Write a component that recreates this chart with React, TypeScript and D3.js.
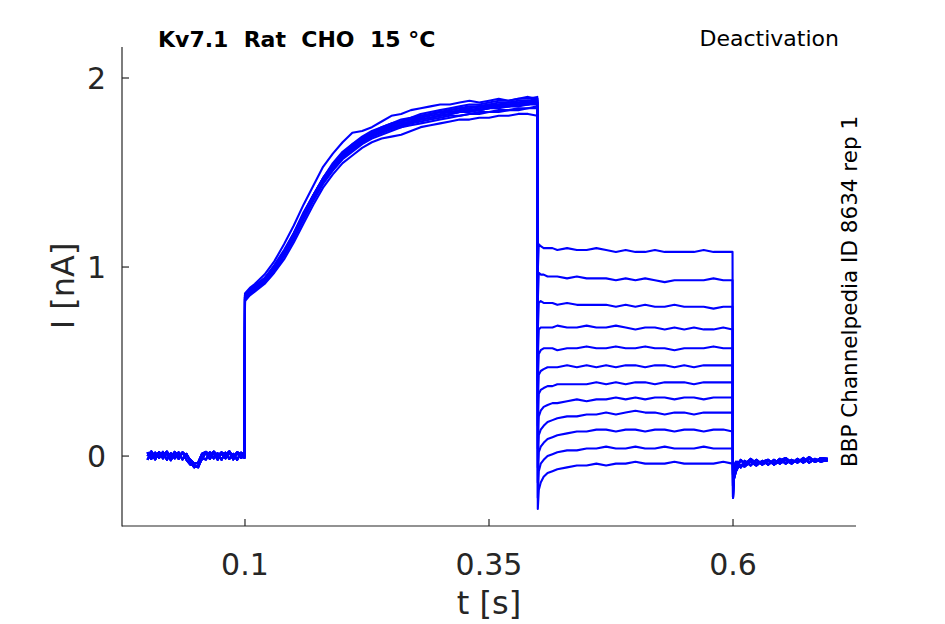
import React from 'react';
import { scaleLinear, line } from 'd3';

// sweep timing (s)
const baseTimes = [0, 0.004, 0.008, 0.012, 0.016, 0.02, 0.024, 0.028, 0.032, 0.036, 0.04, 0.044, 0.048, 0.052, 0.056, 0.06, 0.064, 0.068, 0.072, 0.076, 0.08, 0.084, 0.088, 0.092, 0.096, 0.0995];
const actTimes = [0.1, 0.105, 0.11, 0.12, 0.13, 0.14, 0.15, 0.16, 0.17, 0.18, 0.19, 0.2, 0.21, 0.22, 0.23, 0.24, 0.25, 0.26, 0.27, 0.28, 0.29, 0.3, 0.31, 0.32, 0.33, 0.34, 0.35, 0.36, 0.37, 0.38, 0.39, 0.3995];
const tailTimes = [0.4, 0.401, 0.403, 0.406, 0.41, 0.415, 0.42, 0.43, 0.44, 0.45, 0.46, 0.47, 0.48, 0.49, 0.5, 0.51, 0.52, 0.53, 0.54, 0.55, 0.56, 0.57, 0.58, 0.59, 0.5995];
const postTimes = [0.6, 0.601, 0.603, 0.605, 0.608, 0.612, 0.618, 0.624, 0.63, 0.636, 0.642, 0.648, 0.654, 0.66, 0.666, 0.672, 0.678, 0.684, 0.69, 0.697];

// holding current before the step (nA)
const baselines = [
  [0.02, -0.015, 0.018, -0.01, 0.022, -0.02, 0.015, -0.012, 0.02, -0.018, 0.012, -0.03, -0.06, -0.05, -0.015, 0.02, -0.015, 0.018, -0.02, 0.015, -0.012, 0.02, -0.018, 0.016, -0.01, 0.0],
  [-0.02, 0.015, -0.018, 0.02, -0.012, 0.016, -0.022, 0.012, -0.015, 0.02, -0.02, -0.045, -0.05, -0.06, -0.01, -0.018, 0.02, -0.012, 0.015, -0.02, 0.018, -0.015, 0.012, -0.02, 0.018, 0.01],
  [0.0, 0.025, -0.005, 0.02, 0.005, 0.024, -0.008, 0.022, 0.002, 0.018, 0.006, -0.02, -0.04, -0.035, 0.012, 0.022, 0.004, 0.024, 0.0, 0.02, 0.006, 0.025, -0.004, 0.02, 0.01, -0.01],
];

// activation phase, one row per sweep (nA)
const activation = [
  [0.86, 0.89, 0.91, 0.96, 1.03, 1.12, 1.22, 1.33, 1.43, 1.53, 1.6, 1.66, 1.71, 1.72, 1.74, 1.77, 1.8, 1.81, 1.83, 1.84, 1.85, 1.86, 1.86, 1.87, 1.88, 1.87, 1.88, 1.89, 1.88, 1.89, 1.9, 1.89],
  [0.82, 0.85, 0.87, 0.91, 0.97, 1.04, 1.13, 1.23, 1.33, 1.42, 1.49, 1.55, 1.59, 1.63, 1.66, 1.68, 1.69, 1.7, 1.72, 1.74, 1.75, 1.76, 1.77, 1.78, 1.78, 1.79, 1.79, 1.8, 1.8, 1.81, 1.81, 1.8],
  [0.85, 0.88, 0.9, 0.94, 1.0, 1.08, 1.18, 1.29, 1.38, 1.47, 1.54, 1.6, 1.65, 1.68, 1.71, 1.74, 1.76, 1.77, 1.79, 1.8, 1.81, 1.82, 1.83, 1.84, 1.84, 1.85, 1.86, 1.86, 1.87, 1.87, 1.88, 1.88],
  [0.83, 0.86, 0.88, 0.92, 0.98, 1.06, 1.15, 1.26, 1.36, 1.45, 1.52, 1.58, 1.62, 1.66, 1.69, 1.71, 1.73, 1.74, 1.76, 1.77, 1.78, 1.79, 1.8, 1.8, 1.81, 1.82, 1.82, 1.83, 1.83, 1.84, 1.84, 1.85],
  [0.84, 0.88, 0.9, 0.94, 1.01, 1.09, 1.18, 1.28, 1.38, 1.47, 1.54, 1.6, 1.64, 1.68, 1.71, 1.73, 1.75, 1.77, 1.78, 1.79, 1.81, 1.82, 1.82, 1.83, 1.84, 1.85, 1.85, 1.86, 1.86, 1.87, 1.87, 1.88],
  [0.85, 0.87, 0.89, 0.93, 0.99, 1.07, 1.16, 1.26, 1.36, 1.45, 1.52, 1.58, 1.62, 1.66, 1.69, 1.71, 1.73, 1.75, 1.76, 1.78, 1.79, 1.8, 1.81, 1.82, 1.83, 1.83, 1.84, 1.85, 1.85, 1.86, 1.86, 1.87],
  [0.83, 0.86, 0.89, 0.93, 0.99, 1.08, 1.17, 1.28, 1.38, 1.47, 1.55, 1.61, 1.65, 1.69, 1.72, 1.74, 1.76, 1.78, 1.79, 1.81, 1.82, 1.83, 1.84, 1.85, 1.86, 1.86, 1.87, 1.88, 1.88, 1.89, 1.89, 1.9],
  [0.84, 0.86, 0.88, 0.92, 0.98, 1.06, 1.15, 1.25, 1.35, 1.44, 1.51, 1.57, 1.61, 1.65, 1.68, 1.7, 1.72, 1.74, 1.75, 1.76, 1.77, 1.78, 1.79, 1.8, 1.81, 1.81, 1.82, 1.82, 1.83, 1.83, 1.84, 1.84],
  [0.85, 0.88, 0.9, 0.94, 1.0, 1.08, 1.17, 1.27, 1.37, 1.46, 1.53, 1.59, 1.64, 1.67, 1.7, 1.72, 1.74, 1.76, 1.77, 1.79, 1.8, 1.81, 1.82, 1.82, 1.83, 1.84, 1.85, 1.85, 1.86, 1.86, 1.87, 1.87],
  [0.84, 0.87, 0.89, 0.93, 0.99, 1.07, 1.16, 1.27, 1.37, 1.46, 1.53, 1.59, 1.63, 1.67, 1.7, 1.72, 1.74, 1.76, 1.77, 1.78, 1.79, 1.8, 1.81, 1.82, 1.82, 1.83, 1.84, 1.84, 1.85, 1.85, 1.86, 1.86],
  [0.83, 0.86, 0.88, 0.93, 0.99, 1.07, 1.17, 1.28, 1.38, 1.47, 1.54, 1.6, 1.64, 1.68, 1.71, 1.73, 1.75, 1.77, 1.78, 1.8, 1.81, 1.82, 1.83, 1.84, 1.85, 1.85, 1.86, 1.87, 1.87, 1.88, 1.88, 1.89],
  [0.84, 0.86, 0.88, 0.92, 0.98, 1.06, 1.15, 1.26, 1.36, 1.45, 1.52, 1.58, 1.63, 1.66, 1.69, 1.72, 1.74, 1.75, 1.77, 1.78, 1.79, 1.8, 1.81, 1.82, 1.83, 1.83, 1.84, 1.85, 1.85, 1.86, 1.86, 1.87],
];

// tail currents during the deactivation step, one row per sweep (nA)
const tails = [
  [0.98, 1.12, 1.11, 1.1, 1.1, 1.1, 1.09, 1.1, 1.09, 1.09, 1.1, 1.09, 1.08, 1.09, 1.08, 1.08, 1.09, 1.08, 1.08, 1.08, 1.08, 1.09, 1.08, 1.08, 1.08],
  [0.82, 0.97, 0.96, 0.96, 0.95, 0.95, 0.95, 0.94, 0.95, 0.94, 0.94, 0.94, 0.93, 0.94, 0.93, 0.94, 0.93, 0.92, 0.93, 0.93, 0.93, 0.93, 0.94, 0.93, 0.93],
  [0.66, 0.81, 0.82, 0.81, 0.81, 0.81, 0.8, 0.81, 0.8, 0.8, 0.8, 0.8, 0.79, 0.8, 0.79, 0.8, 0.79, 0.79, 0.8, 0.79, 0.79, 0.79, 0.78, 0.79, 0.79],
  [0.52, 0.67, 0.68, 0.68, 0.68, 0.68, 0.69, 0.68, 0.68, 0.69, 0.68, 0.68, 0.69, 0.68, 0.67, 0.68, 0.68, 0.67, 0.68, 0.67, 0.68, 0.67, 0.67, 0.68, 0.67],
  [0.4, 0.54, 0.56, 0.57, 0.57, 0.57, 0.56, 0.57, 0.57, 0.58, 0.57, 0.57, 0.58, 0.57, 0.57, 0.58, 0.57, 0.57, 0.56, 0.57, 0.57, 0.57, 0.58, 0.57, 0.57],
  [0.28, 0.43, 0.45, 0.46, 0.47, 0.47, 0.47, 0.48, 0.47, 0.48, 0.47, 0.48, 0.47, 0.48, 0.48, 0.47, 0.48, 0.48, 0.47, 0.48, 0.47, 0.48, 0.48, 0.48, 0.48],
  [0.16, 0.33, 0.35, 0.36, 0.37, 0.37, 0.38, 0.38, 0.38, 0.38, 0.39, 0.38, 0.39, 0.38, 0.39, 0.39, 0.38, 0.39, 0.39, 0.39, 0.38, 0.39, 0.39, 0.39, 0.39],
  [0.04, 0.21, 0.24, 0.26, 0.27, 0.28, 0.28, 0.29, 0.3, 0.29, 0.3, 0.3, 0.31, 0.3, 0.31, 0.3, 0.31, 0.31, 0.3, 0.31, 0.31, 0.3, 0.31, 0.31, 0.31],
  [-0.06, 0.11, 0.14, 0.16, 0.18, 0.19, 0.2, 0.21, 0.21, 0.22, 0.22, 0.23, 0.22, 0.23, 0.24, 0.23, 0.23, 0.22, 0.23, 0.23, 0.22, 0.23, 0.23, 0.23, 0.23],
  [-0.14, 0.02, 0.05, 0.07, 0.09, 0.1, 0.11, 0.12, 0.13, 0.13, 0.14, 0.14, 0.13, 0.14, 0.14, 0.13, 0.14, 0.14, 0.13, 0.14, 0.14, 0.13, 0.14, 0.14, 0.13],
  [-0.22, -0.08, -0.04, -0.02, 0.0, 0.01, 0.02, 0.03, 0.03, 0.04, 0.04, 0.05, 0.04, 0.04, 0.05, 0.04, 0.04, 0.05, 0.04, 0.04, 0.04, 0.05, 0.04, 0.04, 0.04],
  [-0.28, -0.18, -0.14, -0.11, -0.09, -0.08, -0.07, -0.06, -0.05, -0.05, -0.04, -0.05, -0.04, -0.04, -0.03, -0.04, -0.04, -0.04, -0.03, -0.04, -0.04, -0.04, -0.04, -0.03, -0.04],
];

// return to holding potential (nA)
const posts = [
  [-0.22, -0.12, -0.08, -0.06, -0.05, -0.055, -0.03, -0.05, -0.025, -0.045, -0.02, -0.04, -0.02, -0.04, -0.015, -0.035, -0.015, -0.03, -0.02, -0.025],
  [-0.16, -0.08, -0.06, -0.03, -0.06, -0.025, -0.05, -0.02, -0.045, -0.025, -0.04, -0.015, -0.04, -0.02, -0.035, -0.01, -0.035, -0.015, -0.03, -0.02],
  [-0.1, -0.06, -0.03, -0.05, -0.02, -0.045, -0.015, -0.04, -0.03, -0.02, -0.045, -0.025, -0.01, -0.035, -0.02, -0.03, -0.005, -0.03, -0.01, -0.015],
];

const xTicks = [0.1, 0.35, 0.6];
const yTicks = [0, 1, 2];

const W = 945;
const H = 624;
const ink = '#262626';
const font = '"DejaVu Sans", sans-serif';

export default function App() {
  const x = scaleLinear().domain([-0.026, 0.726]).range([122, 856]);
  const y = scaleLinear().domain([-0.37, 2.164]).range([526, 47]);

  const trace = line<[number, number]>()
    .x(d => x(d[0]))
    .y(d => y(d[1]));

  const sweeps = activation.map((act, i) => {
    const pts: [number, number][] = [];
    const b = baselines[i % baselines.length];
    baseTimes.forEach((t, k) => pts.push([t, b[k]]));
    actTimes.forEach((t, k) => pts.push([t, act[k]]));
    tailTimes.forEach((t, k) => pts.push([t, tails[i][k]]));
    const p = posts[i % posts.length];
    postTimes.forEach((t, k) => pts.push([t, p[k]]));
    return pts;
  });

  const [x0, x1] = x.range();
  const [y0, y1] = y.range();

  return (
    <div style={{ position: 'absolute', left: 0, top: 0 }}>
      <svg width={W} height={H} style={{ display: 'block', background: '#fff' }}>
        <g fill="none" stroke="#0000ff" strokeWidth={2.1} strokeLinejoin="round">
          {sweeps.map((s, i) => (
            <path key={i} d={trace(s) || ''} />
          ))}
        </g>

        {/* axes */}
        <g stroke={ink} strokeWidth={1.2} fill="none">
          <line x1={x0} x2={x0} y1={y1} y2={y0 + 0.5} />
          <line x1={x0} x2={x1} y1={y0} y2={y0} />
          {yTicks.map(t => (
            <line key={t} x1={x0} x2={x0 + 7} y1={y(t)} y2={y(t)} />
          ))}
          {xTicks.map(t => (
            <line key={t} x1={x(t)} x2={x(t)} y1={y0} y2={y0 - 7} />
          ))}
        </g>

        <g fill={ink} fontFamily={font} fontSize={30}>
          {yTicks.map(t => (
            <text key={t} x={x0 - 16} y={y(t)} dy="0.36em" textAnchor="end">{t}</text>
          ))}
          {xTicks.map(t => (
            <text key={t} x={x(t)} y={575} textAnchor="middle">{t}</text>
          ))}
        </g>

        <text x={x(0.35)} y={614} textAnchor="middle" fontFamily={font} fontSize={32} fill={ink}>t [s]</text>
        <text transform={`translate(74, ${y(0.9)}) rotate(-90)`} textAnchor="middle" fontFamily={font} fontSize={32} fill={ink}>I [nA]</text>

        <text x={158} y={47} fontFamily={font} fontSize={22} fontWeight="bold" fill="#000" style={{ whiteSpace: 'pre' }}>Kv7.1  Rat  CHO  15 °C</text>
        <text x={839} y={46} textAnchor="end" fontFamily={font} fontSize={22} fill="#000">Deactivation</text>
        <text transform="translate(857, 467) rotate(-90)" fontFamily={font} fontSize={21.5} fill="#000">BBP Channelpedia ID 8634 rep 1</text>
      </svg>
    </div>
  );
}
